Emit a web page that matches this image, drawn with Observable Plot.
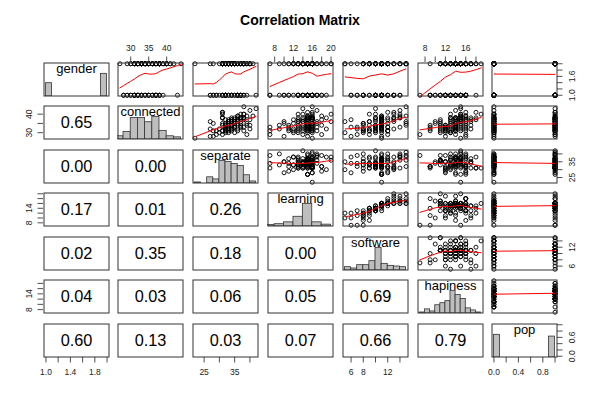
<!DOCTYPE html>
<html>
<head>
<meta charset="utf-8">
<script src="https://cdn.jsdelivr.net/npm/d3@7"></script>
<script src="https://cdn.jsdelivr.net/npm/@observablehq/plot@0.6"></script>
<style>
  body { margin: 0; background: #fff; }
  #root { position: relative; width: 600px; height: 400px; background: #fff; overflow: hidden;
          font-family: "Liberation Sans", Arial, Helvetica, sans-serif; }
  #root .title { position: absolute; left: 0; top: 12px; width: 600px; text-align: center;
                 font-weight: bold; font-size: 14px; line-height: 16px; color: #000; }
</style>
</head>
<body>
<div id="root"><div class="title">Correlation Matrix</div></div>
<script>
// ---------------- data ----------------
const varNames = ["gender", "connected", "separate", "learning", "software", "hapiness", "pop"];

const gender = [2,1,1,1,1,2,1,2,1,2, 1,2,1,2,1,2,1,1,2,2, 1,2,1,2,1,2,2,1,2,2, 2,2,1,2,2,2,1,1,2,2,
  2,1,2,1,2,2,2,2,1,2, 2,2,2,1,1,2,1,2,2,1, 2,1,1,2,2,2,1,2,2,1, 1,2,2,2,1,1,2,1,2,2,
  2,2,1,1,2,2,2,2,1,2, 2,2,2,2,2,2,2,2,1,2];
const connected = [27,28,28,29,29,29,30,30,30,30, 31,31,31,31,31,31,31,31,31,31, 32,32,32,32,32,32,32,32,32,32,
  33,33,33,33,33,33,33,33,33,33, 34,34,34,34,34,34,34,34,34,34, 35,35,35,35,35,35,35,35,36,36,
  36,36,36,36,36,36,37,37,37,37, 37,37,37,37,37,37,38,38,38,38, 38,38,38,38,38,38,38,39,39,39,
  39,40,40,40,40,41,41,42,43,44];
const separate = [22,27,28,29,39,31,32,33,35,30, 32,28,29,38,31,32,34,36,31,33, 27,34,30,40,32,33,34,36,32,33,
  37,35,32,33,34,35,37,38,32,35, 40,31,32,33,34,35,37,34,32,39, 31,32,33,28,35,36,37,39,33,34,
  27,33,34,35,35,36,38,40,34,36, 32,33,34,35,36,37,38,31,34,37, 35,31,36,37,37,38,31,39,36,41,
  36,31,37,38,38,31,31,40,42,38];
const learning = [16,15,10,18,7,14,15,16,13,12, 16,16,11,12,7,15,15,17,13,14, 15,13,19,9,14,12,11,16,16,15,
  16,16,11,15,7,15,15,17,13,14, 15,13,18,9,14,15,11,16,16,15, 16,16,12,16,10,15,15,17,13,14,
  15,13,17,10,14,20,12,16,16,15, 18,15,14,15,13,16,16,16,15,15, 16,15,16,13,15,19,14,18,15,16,
  15,16,14,20,13,16,15,17,14,16];
const software = [11,11,6,12,7,9,10,11,8,5, 12,12,8,9,8,11,10,12,9,10, 11,7,13,8,10,8,9,11,11,11,
  12,12,7,11,6,11,11,14,10,10, 11,10,15,9,10,11,8,11,11,11, 11,12,8,11,8,11,11,15,9,9,
  11,10,13,5,11,15,6,12,11,11, 13,11,10,11,11,11,12,13,11,11, 13,11,14,10,11,14,10,14,11,15,
  11,14,9,13,10,13,12,14,10,15];
const hapiness = [15,16,12,16,7,14,13,11,12,13, 15,14,12,16,9,14,14,11,12,13, 15,17,12,16,9,14,14,11,12,13,
  13,12,9,14,15,11,14,14,16,12, 13,12,9,14,15,11,17,14,16,12, 15,14,13,16,10,14,14,11,15,13,
  14,16,10,17,15,11,18,15,14,13, 16,16,14,17,11,15,14,13,14,15, 15,17,13,16,14,14,18,16,15,15,
  16,19,15,15,13,16,18,14,15,15];
const pop = [0,1,0,0,1,1,0,1,0,0, 1,0,1,0,0,1,1,0,1,0, 0,0,1,1,0,1,0,1,1,0, 1,1,0,0,1,0,1,0,0,1,
  0,1,1,0,1,0,0,1,0,1, 1,0,0,1,0,0,1,0,1,0, 0,1,0,1,1,0,0,1,0,1, 1,0,1,0,0,1,0,1,1,0,
  0,1,1,0,1,0,1,0,0,1, 1,0,0,1,0,1,1,0,1,0];

// lower-panel numbers, row by row (row 1 .. row 6)
const corrValues = [
  [0.65],
  [0.00, 0.00],
  [0.17, 0.01, 0.26],
  [0.02, 0.35, 0.18, 0.00],
  [0.04, 0.03, 0.06, 0.05, 0.69],
  [0.60, 0.13, 0.03, 0.07, 0.66, 0.79]
];

// histogram break points
const genderBreaks = [1.0,1.1,1.2,1.3,1.4,1.5,1.6,1.7,1.8,1.9,2.0];
const connectedBreaks = [26,28,30,32,34,36,38,40,42,44];
const separateBreaks = [22,24,26,28,30,32,34,36,38,40,42];
const learningBreaks = [6,8,10,12,14,16,18,20];
const softwareBreaks = [5,6,7,8,9,10,11,12,13,14,15];
const hapinessBreaks = [7,8,9,10,11,12,13,14,15,16,17,18,19];
const popBreaks = [0,0.1,0.2,0.3,0.4,0.5,0.6,0.7,0.8,0.9,1.0];

// tick values and labels
const genderTicks = [1.0,1.2,1.4,1.6,1.8,2.0];
const genderXLabels = ["1.0","","1.4","","1.8",""];
const genderYLabels = ["1.0","","","1.6","",""];
const connectedTicks = [30,35,40];
const connectedXLabels = ["30","35","40"];
const connectedYLabels = ["30","","40"];
const separateTicks = [25,30,35,40];
const separateXLabels = ["25","","35",""];
const separateYLabels = ["25","","35",""];
const learningTicks = [8,10,12,14,16,18,20];
const learningXLabels = ["8","","12","","16","","20"];
const learningYLabels = ["8","","","14","","",""];
const softwareTicks = [6,8,10,12,14];
const softwareXLabels = ["6","8","","12",""];
const softwareYLabels = ["6","","","12",""];
const hapinessTicks = [8,10,12,14,16,18];
const hapinessXLabels = ["8","","12","","16",""];
const hapinessYLabels = ["8","","","14","",""];
const popTicks = [0,0.2,0.4,0.6,0.8,1.0];
const popXLabels = ["0.0","","0.4","","0.8",""];
const popYLabels = ["0.0","","","0.6","",""];

// ---------------- helpers ----------------
const series = {gender, connected, separate, learning, software, hapiness, pop};
const breaks = {gender: genderBreaks, connected: connectedBreaks, separate: separateBreaks,
  learning: learningBreaks, software: softwareBreaks, hapiness: hapinessBreaks, pop: popBreaks};
const FONT = '"Liberation Sans", Arial, Helvetica, sans-serif';
const W = 66, H = 34;
const colX = [43, 117, 192, 267, 342, 417, 491];
const rowY = [62, 105, 149, 192, 236, 279, 323];
const root = document.getElementById("root");

function usr(v) {
  const [a, b] = d3.extent(series[v]);
  const p = 0.04 * (b - a);
  return [a - p, b + p];
}

function rHist(values, br) {
  const counts = new Array(br.length - 1).fill(0);
  for (const v of values) {
    for (let k = 0; k < counts.length; k++) {
      if (v <= br[k + 1] + 1e-9) { counts[k]++; break; }
    }
  }
  return counts.map((c, k) => ({x0: br[k], x1: br[k + 1], count: c}));
}

// port of R's clowess
function lowest(x, y, n, xs, nleft, nright, rw, userw) {
  const range = x[n - 1] - x[0];
  const h = Math.max(xs - x[nleft], x[nright] - xs);
  const h9 = 0.999 * h, h1 = 0.001 * h;
  const w = new Array(n).fill(0);
  let a = 0, j = nleft;
  while (j < n) {
    w[j] = 0;
    const r = Math.abs(x[j] - xs);
    if (r <= h9) {
      w[j] = r <= h1 ? 1 : Math.pow(1 - Math.pow(r / h, 3), 3);
      if (userw) w[j] *= rw[j];
      a += w[j];
    } else if (x[j] > xs) break;
    j++;
  }
  const nrt = j - 1;
  if (a <= 0) return null;
  for (j = nleft; j <= nrt; j++) w[j] /= a;
  if (h > 0) {
    a = 0;
    for (j = nleft; j <= nrt; j++) a += w[j] * x[j];
    let b = xs - a, c = 0;
    for (j = nleft; j <= nrt; j++) c += w[j] * (x[j] - a) * (x[j] - a);
    if (Math.sqrt(c) > 0.001 * range) {
      b /= c;
      for (j = nleft; j <= nrt; j++) w[j] *= (b * (x[j] - a) + 1);
    }
  }
  let ys = 0;
  for (j = nleft; j <= nrt; j++) ys += w[j] * y[j];
  return ys;
}

function lowess(xIn, yIn, f = 2 / 3, iter = 3) {
  const idx = d3.range(xIn.length).sort((a, b) => xIn[a] - xIn[b]);
  const x = idx.map(i => xIn[i]), y = idx.map(i => yIn[i]);
  const n = x.length;
  const ns = Math.max(2, Math.min(n, Math.floor(f * n + 1e-7)));
  const delta = 0.01 * (x[n - 1] - x[0]);
  const ys = new Array(n).fill(0), rw = new Array(n).fill(1), res = new Array(n).fill(0);
  for (let it = 1; it <= iter + 1; it++) {
    let nleft = 0, nright = ns - 1, last = -1, i = 0;
    for (;;) {
      if (nright < n - 1) {
        const d1 = x[i] - x[nleft], d2 = x[nright + 1] - x[i];
        if (d1 > d2) { nleft++; nright++; continue; }
      }
      const fit = lowest(x, y, n, x[i], nleft, nright, rw, it > 1);
      ys[i] = fit === null ? y[i] : fit;
      if (last < i - 1) {
        const denom = x[i] - x[last];
        for (let j = last + 1; j < i; j++) {
          const alpha = (x[j] - x[last]) / denom;
          ys[j] = alpha * ys[i] + (1 - alpha) * ys[last];
        }
      }
      last = i;
      const cut = x[last] + delta;
      for (i = last + 1; i < n; i++) {
        if (x[i] > cut) break;
        if (x[i] === x[last]) { ys[i] = ys[last]; last = i; }
      }
      i = Math.max(last + 1, i - 1);
      if (last >= n - 1) break;
    }
    for (let k = 0; k < n; k++) res[k] = y[k] - ys[k];
    if (it > iter) break;
    const ares = res.map(Math.abs);
    const sc = d3.sum(ares) / n;
    const sorted = ares.slice().sort((a, b) => a - b);
    const m1 = Math.floor(n / 2);
    const cmad = n % 2 === 0 ? 3 * (sorted[m1] + sorted[m1 - 1]) : 6 * sorted[m1];
    if (cmad < 1e-7 * sc) break;
    const c9 = 0.999 * cmad, c1 = 0.001 * cmad;
    for (let k = 0; k < n; k++) {
      const r = ares[k];
      rw[k] = r <= c1 ? 1 : r <= c9 ? Math.pow(1 - Math.pow(r / cmad, 2), 2) : 0;
    }
  }
  return x.map((xv, k) => ({x: xv, y: ys[k]}));
}

function place(svg, left, top) {
  svg.style.position = "absolute";
  svg.style.left = left + "px";
  svg.style.top = top + "px";
  svg.style.overflow = "visible";
  svg.style.background = "transparent";
  svg.style.maxWidth = "none";
  svg.style.fontFamily = FONT;
  root.appendChild(svg);
}

function panelPlot(marks, xd, yd) {
  return Plot.plot({
    width: W, height: H, margin: 0,
    x: {domain: xd, axis: null},
    y: {domain: yd, axis: null},
    marks
  });
}

const frame = () => Plot.frame({stroke: "#333", strokeWidth: 1, inset: 0.5});

// ---------------- panels ----------------
for (let r = 0; r < 7; r++) {
  for (let c = 0; c < 7; c++) {
    const vr = varNames[r], vc = varNames[c];
    let svg;
    if (r < c) {
      const pts = series[vc].map((xv, i) => ({x: xv, y: series[vr][i]}));
      svg = panelPlot([
        Plot.dot(pts, {x: "x", y: "y", r: 2.0, stroke: "#000", strokeWidth: 0.9, fill: "none"}),
        Plot.line(lowess(series[vc], series[vr]), {x: "x", y: "y", stroke: "#ff0000", strokeWidth: 1}),
        frame()
      ], usr(vc), usr(vr));
    } else if (r === c) {
      const bins = rHist(series[vr], breaks[vr]);
      const mx = d3.max(bins, d => d.count);
      svg = panelPlot([
        Plot.rectY(bins, {x1: "x0", x2: "x1", y: d => d.count / mx, fill: "#bebebe",
          stroke: "#333", strokeWidth: 0.8, clip: true}),
        Plot.text([vr], {text: d => d, frameAnchor: "top", lineAnchor: "middle", dy: 6.5, fontSize: 13,
          fill: "#000", fontFamily: FONT}),
        frame()
      ], usr(vr), [0, 1.5]);
    } else {
      const val = corrValues[r - 1][c];
      svg = panelPlot([
        Plot.text([val], {text: d => d.toFixed(2), frameAnchor: "middle", fontSize: 16.3,
          fill: "#000", fontFamily: FONT}),
        frame()
      ], [0, 1], [0, 1]);
    }
    place(svg, colX[c], rowY[r]);
  }
}

// ---------------- axes ----------------
const TICK = 5.5, LABEL_OFF = 14.3;
function xAxis(v, side, ticks, labels, c, r) {
  const lab = ticks.map((t, i) => ({t, s: labels[i]})).filter(d => d.s !== "");
  const svg = Plot.plot({
    width: W, height: H, margin: 0,
    x: {domain: usr(v), axis: null},
    marks: [
      Plot.tickX(ticks, {x: d => d, stroke: "#222", strokeWidth: 0.8,
        insetTop: side === "top" ? -TICK : H, insetBottom: side === "top" ? H : -TICK}),
      Plot.text(lab, {x: "t", text: "s", frameAnchor: side, lineAnchor: "middle",
        dy: side === "top" ? -LABEL_OFF : LABEL_OFF, fontSize: 8.5, fill: "#222", fontFamily: FONT})
    ]
  });
  place(svg, colX[c], rowY[r]);
}
function yAxis(v, side, ticks, labels, c, r) {
  const lab = ticks.map((t, i) => ({t, s: labels[i]})).filter(d => d.s !== "");
  const svg = Plot.plot({
    width: W, height: H, margin: 0,
    y: {domain: usr(v), axis: null},
    marks: [
      Plot.tickY(ticks, {y: d => d, stroke: "#222", strokeWidth: 0.8,
        insetLeft: side === "left" ? -TICK : W, insetRight: side === "left" ? W : -TICK}),
      Plot.text(lab, {y: "t", text: "s", frameAnchor: side, lineAnchor: "middle",
        dx: side === "left" ? -LABEL_OFF : LABEL_OFF,
        rotate: -90, textAnchor: "middle", fontSize: 8.5, fill: "#222", fontFamily: FONT})
    ]
  });
  place(svg, colX[c], rowY[r]);
}

// top axes (row 0)
xAxis("connected", "top", connectedTicks, connectedXLabels, 1, 0);
xAxis("learning", "top", learningTicks, learningXLabels, 3, 0);
xAxis("hapiness", "top", hapinessTicks, hapinessXLabels, 5, 0);
// bottom axes (row 6)
xAxis("gender", "bottom", genderTicks, genderXLabels, 0, 6);
xAxis("separate", "bottom", separateTicks, separateXLabels, 2, 6);
xAxis("software", "bottom", softwareTicks, softwareXLabels, 4, 6);
xAxis("pop", "bottom", popTicks, popXLabels, 6, 6);
// left axes (col 0)
yAxis("connected", "left", connectedTicks, connectedYLabels, 0, 1);
yAxis("learning", "left", learningTicks, learningYLabels, 0, 3);
yAxis("hapiness", "left", hapinessTicks, hapinessYLabels, 0, 5);
// right axes (col 6)
yAxis("gender", "right", genderTicks, genderYLabels, 6, 0);
yAxis("separate", "right", separateTicks, separateYLabels, 6, 2);
yAxis("software", "right", softwareTicks, softwareYLabels, 6, 4);
yAxis("pop", "right", popTicks, popYLabels, 6, 6);
</script>
</body>
</html>
